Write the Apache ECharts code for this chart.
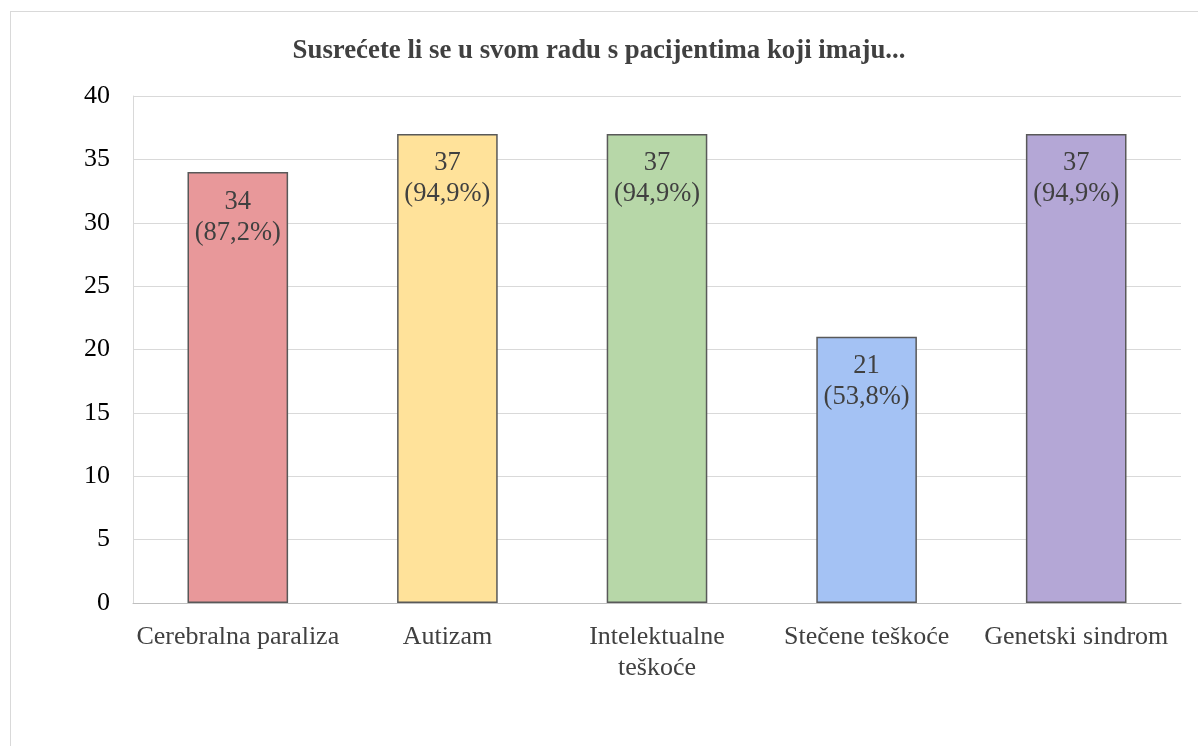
<!DOCTYPE html>
<html>
<head>
<meta charset="utf-8">
<script src="https://cdn.jsdelivr.net/npm/echarts@6/dist/echarts.min.js"></script>
<style>
html,body{margin:0;padding:0;background:#fff;}
#frame{position:absolute;left:10px;top:11px;width:1200px;height:760px;border:1px solid #d9d9d9;box-sizing:border-box;}
#chart{position:absolute;left:0;top:0;width:1198px;height:746px;}
</style>
</head>
<body>
<div id="frame"></div>
<div id="chart"></div>
<script>
const titleText = 'Susrećete li se u svom radu s pacijentima koji imaju...';
const categories = ['Cerebralna paraliza', 'Autizam', 'Intelektualne\nteškoće', 'Stečene teškoće', 'Genetski sindrom'];
const counts = [34, 37, 37, 21, 37];
const percents = ['87,2%', '94,9%', '94,9%', '53,8%', '94,9%'];
const barColors = ['#E8989A', '#FFE29A', '#B7D7A8', '#A4C2F4', '#B4A7D6'];
const yTicks = [0, 5, 10, 15, 20, 25, 30, 35, 40];

const chart = echarts.init(document.getElementById('chart'));
const font = '"Liberation Serif", "Times New Roman", serif';
chart.setOption({
  backgroundColor: 'transparent',
  animation: false,
  title: {
    text: titleText,
    left: 'center',
    top: 33,
    textStyle: { fontFamily: font, fontSize: 26.8, fontWeight: 'bold', color: '#404040' }
  },
  grid: { left: 133, right: 17, top: 96, bottom: 143, containLabel: false },
  xAxis: {
    type: 'category',
    data: categories,
    axisLine: { show: true, lineStyle: { color: '#bfbfbf', width: 1 } },
    axisTick: { show: false },
    axisLabel: { fontFamily: font, fontSize: 26, color: '#404040', margin: 19, lineHeight: 31, interval: 0 }
  },
  yAxis: {
    type: 'value',
    min: yTicks[0],
    max: yTicks[yTicks.length - 1],
    interval: 5,
    axisLine: { show: true, lineStyle: { color: '#d9d9d9', width: 1 } },
    axisTick: { show: false },
    splitLine: { show: true, lineStyle: { color: '#d9d9d9', width: 1 } },
    axisLabel: { fontFamily: font, fontSize: 26, color: '#000', margin: 23 }
  },
  series: [{
    type: 'bar',
    barWidth: '48%',
    data: counts.map((v, i) => ({
      value: v,
      itemStyle: { color: barColors[i], borderColor: '#595959', borderWidth: 1.5 }
    })),
    label: {
      show: true,
      position: 'insideTop',
      distance: 14,
      fontFamily: font,
      fontSize: 26.5,
      lineHeight: 31,
      color: '#404040',
      formatter: p => p.value + '\n(' + percents[p.dataIndex] + ')'
    }
  }]
});
</script>
</body>
</html>
